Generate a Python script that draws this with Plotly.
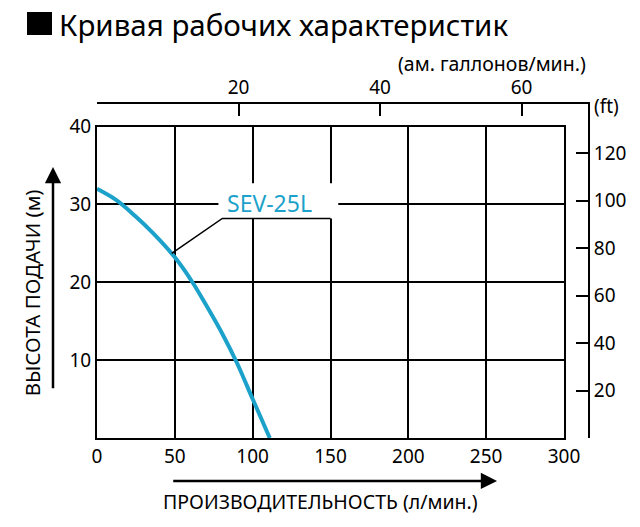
import plotly.graph_objects as go

# Performance curve SEV-25L.
flow_lpm = [0, 12, 24, 36, 50, 61, 70, 81, 90, 100, 111]
head_m = [32.0, 30.6, 28.6, 26.3, 23.2, 20.1, 17.1, 13.2, 9.6, 5.0, 0.0]

x_ticks = [0, 50, 100, 150, 200, 250, 300]
y_ticks = [10, 20, 30, 40]
gal_ticks = [20, 40, 60]
ft_ticks = [20, 40, 60, 80, 100, 120]

L_PER_GAL = 4.546
M_PER_FT = 0.3048
CYAN = "#1ca2ca"
FONT = "Noto Sans"

# Outer frame (gallons / ft) is a little larger than the inner grid.
inner_w, outer_w = 467, 491
inner_h, outer_h = 311.5, 334
x_max = 300
y_max = 40
gal_max = x_max * outer_w / inner_w / L_PER_GAL
ft_max = y_max * outer_h / inner_h / M_PER_FT

fig = go.Figure()

fig.add_trace(go.Scatter(x=flow_lpm, y=head_m, mode="lines",
    line=dict(color=CYAN, width=4, shape="spline"),
    hoverinfo="skip", showlegend=False))

# dummy trace so the outer subplot exists
fig.add_trace(go.Scatter(x=[0], y=[0], xaxis="x2", yaxis="y2",
    mode="markers", opacity=0, hoverinfo="skip", showlegend=False))

# label box + leader line
fig.add_shape(type="rect", x0=78, x1=155, y0=28.2, y1=32.7,
    fillcolor="white", line_width=0, layer="above")
fig.add_shape(type="path", path="M 48,23.7 L 80.5,28.2 L 150,28.2",
    line=dict(color="black", width=1.5), layer="above")

fig.add_annotation(x=111, y=30.2, text="SEV-25L", showarrow=False,
    font=dict(size=23, color=CYAN, family=FONT))

# title: black square + text
fig.add_shape(type="rect", xref="paper", yref="paper",
    x0=-0.1426, x1=-0.0916, y0=1.2066, y1=1.2754,
    fillcolor="black", line_width=0)
fig.add_annotation(x=-0.0815, y=1.2395, xref="paper", yref="paper",
    xanchor="left", yanchor="middle", showarrow=False,
    text="Кривая рабочих характеристик",
    font=dict(size=29.5, color="black", family=FONT))

# axis arrows
fig.add_annotation(x=257, y=-0.1287, xref="x", yref="paper",
    ax=48, ay=0, axref="x", ayref="pixel", text="",
    arrowhead=2, arrowsize=1.3, arrowwidth=2.5, arrowcolor="black")
fig.add_annotation(x=-0.0896, y=34.8, xref="paper", yref="y",
    ax=0, ay=6.2, axref="pixel", ayref="y", text="",
    arrowhead=2, arrowsize=1.3, arrowwidth=2.5, arrowcolor="black")

fig.add_annotation(x=143.5, y=-0.1916, xref="x", yref="paper",
    xanchor="center", yanchor="middle",
    text="ПРОИЗВОДИТЕЛЬНОСТЬ (л/мин.)", showarrow=False,
    font=dict(size=19.5, color="black", family=FONT))
fig.add_annotation(x=-0.1324, y=18.7, xref="paper", yref="y",
    xanchor="center", yanchor="middle",
    text="ВЫСОТА ПОДАЧИ (м)", textangle=-90, showarrow=False,
    font=dict(size=20.5, color="black", family=FONT))

fig.add_annotation(x=1, y=1.12, xref="paper", yref="paper",
    text="(ам. галлонов/мин.)", showarrow=False, xanchor="right",
    yanchor="middle", font=dict(size=19.5, color="black", family=FONT))
fig.add_annotation(x=1, y=0.995, xref="paper", yref="paper", xshift=4,
    text="(ft)", showarrow=False, xanchor="left", yanchor="middle",
    font=dict(size=19, color="black", family=FONT))

tick_font = dict(size=19, color="black", family=FONT)

grid = dict(showgrid=True, gridcolor="black", gridwidth=2, zeroline=False,
    showline=True, linecolor="black", linewidth=2, mirror=True,
    ticks="", tickfont=tick_font)

outer = dict(ticks="inside", ticklen=12, tickwidth=2, tickcolor="black",
    showline=True, linecolor="black", linewidth=2, showgrid=False,
    zeroline=False, tickfont=tick_font)

fig.update_layout(
    width=640, height=527,
    margin=dict(l=89, r=60, t=96, b=97),
    paper_bgcolor="white", plot_bgcolor="rgba(0,0,0,0)",
    xaxis=dict(domain=[0, inner_w / outer_w], anchor="y", range=[0, x_max],
        tickvals=x_ticks, **grid),
    yaxis=dict(domain=[0, inner_h / outer_h], anchor="x", range=[0, y_max],
        tickvals=y_ticks, **grid),
    xaxis2=dict(domain=[0, 1], anchor="y2", side="top", range=[0, gal_max],
        tickvals=gal_ticks, **outer),
    yaxis2=dict(domain=[0, 1], anchor="x2", side="right", range=[0, ft_max],
        tickvals=ft_ticks, **outer),
)

fig.write_html("out.html")
